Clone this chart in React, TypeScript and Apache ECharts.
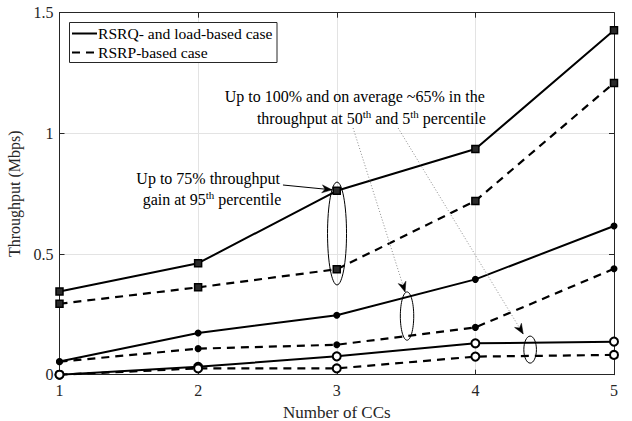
import React, { useEffect, useRef } from "react";
import * as echarts from "echarts";

const ccs = [1, 2, 3, 4, 5];
const rsrq95 = [0.345, 0.462, 0.762, 0.935, 1.427];
const rsrp95 = [0.294, 0.362, 0.437, 0.72, 1.209];
const rsrq50 = [0.055, 0.173, 0.246, 0.395, 0.616];
const rsrp50 = [0.054, 0.108, 0.124, 0.196, 0.439];
const rsrq5 = [0.0, 0.033, 0.076, 0.13, 0.137];
const rsrp5 = [0.0, 0.026, 0.026, 0.075, 0.082];

const legendNames = ["RSRQ- and load-based case", "RSRP-based case"];
const xTitle = "Number of CCs";
const yTitle = "Throughput (Mbps)";

const FONT = "Times New Roman, Liberation Serif, DejaVu Serif, serif";

export default function App() {
  const ref = useRef<HTMLDivElement>(null);
  useEffect(() => {
    if (!ref.current) return;
    const chart = echarts.init(ref.current, undefined, { renderer: "svg" });
    const pts = (ys: number[]) => ccs.map((x, i) => [x, ys[i]]);
    const solid = { color: "#000", width: 2, type: "solid" as const };
    const dashed = { color: "#000", width: 2.2, type: [8, 6] as any };
    const sq = { symbol: "rect", symbolSize: 7, itemStyle: { color: "#2a2a2a", borderColor: "#000", borderWidth: 1.5 } };
    const fc = { symbol: "circle", symbolSize: 7, itemStyle: { color: "#000", borderColor: "#000", borderWidth: 0 } };
    const oc = { symbol: "circle", symbolSize: 8, itemStyle: { color: "#fff", borderColor: "#000", borderWidth: 2 } };
    const mk = (name: string, ys: number[], ls: any, sym: any) => ({
      type: "line",
      name,
      data: pts(ys),
      lineStyle: ls,
      showSymbol: true,
      ...sym,
      z: 5,
      emphasis: { disabled: true },
    });
    const axisLabel = { color: "#262626", fontFamily: FONT, fontSize: 16 };
    chart.setOption({
      animation: false,
      backgroundColor: "#fff",
      textStyle: { fontFamily: FONT },
      grid: { left: 59.5, right: 18, top: 12.7, bottom: 46.3, containLabel: false, outerBoundsMode: "none" },
      xAxis: [
        {
          type: "value",
          min: 1,
          max: 5,
          interval: 1,
          name: xTitle,
          nameLocation: "middle",
          nameGap: 24,
          nameTextStyle: { color: "#262626", fontFamily: FONT, fontSize: 17, verticalAlign: "top" },
          axisLine: { show: true, lineStyle: { color: "#262626", width: 1 } },
          axisTick: { show: true, inside: true, length: 5, lineStyle: { color: "#262626" } },
          axisLabel: { ...axisLabel, margin: 8 },
          splitLine: { show: true, lineStyle: { color: "#e3e3e3", width: 1 } },
        },
        {
          type: "value",
          position: "top",
          min: 1,
          max: 5,
          interval: 1,
          axisLine: { show: true, onZero: false, lineStyle: { color: "#262626", width: 1 } },
          axisTick: { show: true, inside: true, length: 5, lineStyle: { color: "#262626" } },
          axisLabel: { show: false },
          splitLine: { show: false },
        },
      ],
      yAxis: [
        {
          type: "value",
          min: 0,
          max: 1.5,
          interval: 0.5,
          name: yTitle,
          nameLocation: "middle",
          nameGap: 27,
          nameTextStyle: { color: "#262626", fontFamily: FONT, fontSize: 16 },
          axisLine: { show: true, lineStyle: { color: "#262626", width: 1 } },
          axisTick: { show: true, inside: true, length: 5, lineStyle: { color: "#262626" } },
          axisLabel: { ...axisLabel, margin: 6 },
          splitLine: { show: true, lineStyle: { color: "#e3e3e3", width: 1 } },
        },
        {
          type: "value",
          position: "right",
          min: 0,
          max: 1.5,
          interval: 0.5,
          axisLine: { show: true, onZero: false, lineStyle: { color: "#262626", width: 1 } },
          axisTick: { show: true, inside: true, length: 5, lineStyle: { color: "#262626" } },
          axisLabel: { show: false },
          splitLine: { show: false },
        },
      ],
      series: [
        mk("RSRQ 95th", rsrq95, solid, sq),
        mk("RSRP 95th", rsrp95, dashed, sq),
        mk("RSRQ 50th", rsrq50, solid, fc),
        mk("RSRP 50th", rsrp50, dashed, fc),
        mk("RSRQ 5th", rsrq5, solid, oc),
        mk("RSRP 5th", rsrp5, dashed, oc),
      ],
    });

    const P = (x: number, y: number) => chart.convertToPixel({ gridIndex: 0 }, [x, y]) as number[];
    const txt = (x: number, y: number, text: string) => {
      const p = P(x, y);
      return {
        type: "text",
        x: p[0],
        y: p[1],
        z: 20,
        style: {
          text,
          align: "center",
          verticalAlign: "middle",
          fill: "#000",
          fontFamily: FONT,
          rich: {
            n: { fontFamily: FONT, fontSize: 16, fill: "#000", verticalAlign: "bottom", lineHeight: 20 },
            s: { fontFamily: FONT, fontSize: 11, fill: "#000", verticalAlign: "bottom", padding: [0, 0, 7, 0], lineHeight: 20 },
          },
        },
      };
    };
    const ell = (x: number, y: number, rxPx: number, ryData: number) => {
      const c = P(x, y);
      const t = P(x, y + ryData);
      return {
        type: "ellipse",
        z: 20,
        shape: { cx: c[0], cy: c[1], rx: rxPx, ry: c[1] - t[1] },
        style: { fill: "none", stroke: "#000", lineWidth: 1 },
      };
    };
    const head = (a: number[], b: number[]) => {
      const dx = b[0] - a[0];
      const dy = b[1] - a[1];
      const L = Math.hypot(dx, dy);
      const ux = dx / L, uy = dy / L;
      const nx = -uy, ny = ux;
      const len = 10, hw = 4, notch = 3;
      const back = [b[0] - ux * len, b[1] - uy * len];
      return {
        type: "polygon",
        z: 21,
        shape: {
          points: [
            b,
            [back[0] + nx * hw, back[1] + ny * hw],
            [b[0] - ux * (len - notch), b[1] - uy * (len - notch)],
            [back[0] - nx * hw, back[1] - ny * hw],
          ],
        },
        style: { fill: "#000", stroke: "#000", lineWidth: 0.5 },
      };
    };
    const arrow = (x1: number, y1: number, x2: number, y2: number, dotted: boolean) => {
      const a = P(x1, y1);
      const b = P(x2, y2);
      return [
        {
          type: "line",
          z: 20,
          shape: { x1: a[0], y1: a[1], x2: b[0], y2: b[1] },
          style: dotted
            ? { stroke: "#8c8c8c", lineWidth: 1, lineDash: [1, 2] }
            : { stroke: "#000", lineWidth: 1 },
        },
        head(a, b),
      ];
    };

    const legend = [
      {
        type: "rect",
        z: 30,
        shape: { x: 69.5, y: 22.5, width: 207.5, height: 40 },
        style: { fill: "#fff", stroke: "#262626", lineWidth: 1 },
      },
      {
        type: "line",
        z: 31,
        shape: { x1: 72, y1: 33.5, x2: 97, y2: 33.5 },
        style: { stroke: "#000", lineWidth: 2 },
      },
      {
        type: "line",
        z: 31,
        shape: { x1: 72, y1: 52.5, x2: 97, y2: 52.5 },
        style: { stroke: "#000", lineWidth: 2.2, lineDash: [8, 6] },
      },
      {
        type: "text",
        z: 31,
        x: 98,
        y: 33.5,
        style: { text: legendNames[0], fontFamily: FONT, fontSize: 15.6, fill: "#000", verticalAlign: "middle" },
      },
      {
        type: "text",
        z: 31,
        x: 98,
        y: 52.5,
        style: { text: legendNames[1], fontFamily: FONT, fontSize: 15.6, fill: "#000", verticalAlign: "middle" },
      },
    ];

    chart.setOption({
      graphic: [
        ...legend,
        txt(2.072, 0.822, "{n|Up to 75% throughput}"),
        txt(2.1, 0.736, "{n|gain at 95}{s|th}{n| percentile}"),
        txt(3.13, 1.16, "{n|Up to 100% and on average ~65% in the}"),
        txt(3.25, 1.07, "{n|throughput at 50}{s|th}{n| and 5}{s|th}{n| percentile}"),
        ...arrow(2.612, 0.786, 2.966, 0.766, false),
        ...arrow(3.118, 1.022, 3.493, 0.343, true),
        ...arrow(3.443, 1.022, 4.345, 0.169, true),
        ell(3.002, 0.585, 9.5, 0.213),
        ell(3.507, 0.243, 6.7, 0.1),
        ell(4.395, 0.104, 6.3, 0.056),
      ],
    });
    return () => chart.dispose();
  }, []);
  return (
    <div
      ref={ref}
      style={{ position: "absolute", left: 0, top: 0, width: 632, height: 421, background: "#fff" }}
    />
  );
}
